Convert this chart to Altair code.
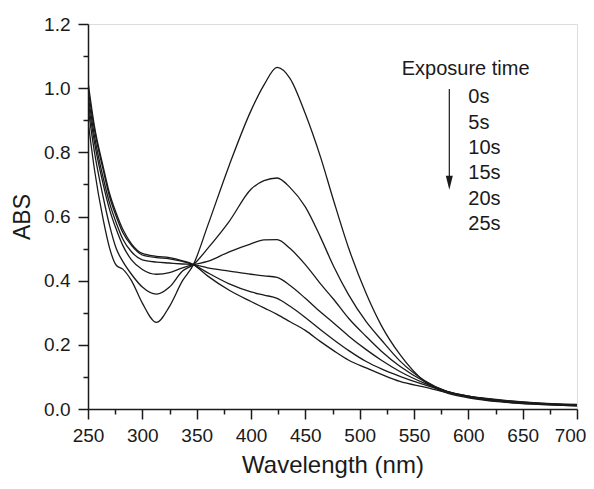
import altair as alt
import pandas as pd

wavelength = [250, 256, 264, 270, 276, 282, 290, 300, 313, 325, 337, 347, 360, 380, 400, 412, 424,
              436, 450, 464, 476, 490, 506, 520, 537, 560, 580, 600, 630, 660, 700]

abs_0s = [0.90, 0.745, 0.59, 0.50, 0.448, 0.436, 0.40, 0.33, 0.27, 0.32, 0.40, 0.45, 0.57, 0.76, 0.93,
          1.01, 1.065, 1.03, 0.92, 0.785, 0.65, 0.50, 0.36, 0.26, 0.17, 0.085, 0.05, 0.035, 0.022, 0.015, 0.010]
abs_5s = [0.94, 0.80, 0.66, 0.57, 0.50, 0.46, 0.42, 0.38, 0.358, 0.38, 0.43, 0.45, 0.50, 0.585, 0.685,
          0.712, 0.72, 0.69, 0.63, 0.535, 0.445, 0.355, 0.272, 0.215, 0.15, 0.088, 0.055, 0.037, 0.024, 0.016, 0.010]
abs_10s = [0.96, 0.83, 0.70, 0.62, 0.56, 0.51, 0.465, 0.435, 0.42, 0.425, 0.44, 0.45, 0.46, 0.49, 0.515,
           0.527, 0.528, 0.50, 0.45, 0.39, 0.342, 0.282, 0.226, 0.18, 0.133, 0.085, 0.055, 0.038, 0.025, 0.017, 0.011]
abs_15s = [0.98, 0.85, 0.72, 0.64, 0.58, 0.53, 0.49, 0.465, 0.458, 0.455, 0.452, 0.45, 0.44, 0.43, 0.42,
           0.415, 0.41, 0.385, 0.345, 0.302, 0.268, 0.227, 0.185, 0.152, 0.117, 0.08, 0.055, 0.04, 0.026, 0.018, 0.012]
abs_20s = [1.00, 0.87, 0.745, 0.66, 0.60, 0.55, 0.51, 0.48, 0.472, 0.468, 0.46, 0.45, 0.425, 0.39, 0.365,
           0.355, 0.345, 0.32, 0.285, 0.247, 0.216, 0.182, 0.148, 0.125, 0.102, 0.075, 0.055, 0.04, 0.027, 0.019, 0.013]
abs_25s = [1.02, 0.88, 0.755, 0.67, 0.61, 0.56, 0.515, 0.485, 0.476, 0.472, 0.462, 0.45, 0.415, 0.37, 0.335,
           0.315, 0.295, 0.272, 0.245, 0.21, 0.182, 0.152, 0.128, 0.108, 0.086, 0.068, 0.052, 0.04, 0.028, 0.02, 0.014]

series_names = ["0s", "5s", "10s", "15s", "20s", "25s"]
series_values = [abs_0s, abs_5s, abs_10s, abs_15s, abs_20s, abs_25s]

legend_title = "Exposure time"
x_major = [250, 300, 350, 400, 450, 500, 550, 600, 650, 700]
x_minor = [275, 325, 375, 425, 475, 525, 575, 625, 675]
y_major = [0.0, 0.2, 0.4, 0.6, 0.8, 1.0, 1.2]
y_minor = [0.1, 0.3, 0.5, 0.7, 0.9, 1.1]

rows = []
for name, vals in zip(series_names, series_values):
    for w, v in zip(wavelength, vals):
        rows.append({"series": name, "wavelength": w, "abs": v})
df = pd.DataFrame(rows)

FONT = "Liberation Sans"
INK = "#1a1a1a"

xscale = alt.Scale(domain=[250, 700], nice=False)
yscale = alt.Scale(domain=[0, 1.2], nice=False)

common = dict(grid=False, domainColor=INK, tickColor=INK, domainWidth=1.5, tickWidth=1.5,
              labelFont=FONT, labelFontSize=19, labelColor=INK, labelFlush=False, labelOverlap=False,
              labelBound=False,
              titleFont=FONT, titleFontWeight="normal", titleColor=INK)

xaxis = alt.Axis(values=x_major, title="Wavelength (nm)", format="d", orient="bottom",
                 tickSize=10, labelPadding=7, titlePadding=8, titleFontSize=24,
                 labelOffset=alt.condition("datum.value == 700", alt.value(-7), alt.value(0)),
                 **common)
yaxis = alt.Axis(values=y_major, title="ABS", format=".1f", orient="left",
                 tickSize=10, labelPadding=8, titlePadding=9, titleFontSize=23, **common)

xaxis_minor = alt.Axis(values=x_minor, title=None, labels=False, domain=False, orient="bottom",
                       tickSize=5, tickWidth=1.5, tickColor=INK, grid=False)
yaxis_minor = alt.Axis(values=y_minor, title=None, labels=False, domain=False, orient="left",
                       tickSize=5, tickWidth=1.5, tickColor=INK, grid=False)

lines = alt.Chart(df).mark_line(color=INK, strokeWidth=1.3, interpolate="monotone", clip=True).encode(
    x=alt.X("wavelength:Q", scale=xscale, axis=xaxis),
    y=alt.Y("abs:Q", scale=yscale, axis=yaxis),
    detail="series:N",
)

minor = alt.Chart(df).mark_point(opacity=0).encode(
    x=alt.X("wavelength:Q", scale=xscale, axis=xaxis_minor),
    y=alt.Y("abs:Q", scale=yscale, axis=yaxis_minor),
)

# legend annotation
leg_df = pd.DataFrame({"label": series_names, "idx": list(range(len(series_names)))})
leg_labels = alt.Chart(leg_df).transform_calculate(
    xx="600", yy="0.972 - datum.idx * 0.0792"
).mark_text(align="left", baseline="middle", font=FONT, fontSize=20, color=INK).encode(
    x=alt.X("xx:Q", scale=xscale, axis=None), y=alt.Y("yy:Q", scale=yscale, axis=None), text="label:N"
)

title_df = pd.DataFrame({"label": [legend_title]})
leg_title = alt.Chart(title_df).transform_calculate(
    xx="597.5", yy="1.06"
).mark_text(align="center", baseline="middle", font=FONT, fontSize=20, color=INK).encode(
    x=alt.X("xx:Q", scale=xscale, axis=None), y=alt.Y("yy:Q", scale=yscale, axis=None), text="label:N"
)

arrow_df = pd.DataFrame({"x": [582.5], "y1": [0.9975], "y2": [0.72], "yh": [0.705]})
arrow_line = alt.Chart(arrow_df).mark_rule(color=INK, strokeWidth=1.2).encode(
    x=alt.X("x:Q", scale=xscale, axis=None), y=alt.Y("y1:Q", scale=yscale, axis=None), y2="y2:Q"
)
arrow_head = alt.Chart(arrow_df).mark_point(
    shape="M -0.5 -1 L 0.5 -1 L 0 1 Z", filled=True, color=INK, size=196, opacity=1
).encode(x=alt.X("x:Q", scale=xscale, axis=None), y=alt.Y("yh:Q", scale=yscale, axis=None))

chart = alt.layer(lines, minor, leg_title, leg_labels, arrow_line, arrow_head).resolve_axis(
    x="independent", y="independent"
).properties(
    width=489, height=385,
    autosize=alt.AutoSizeParams(type="none"),
    padding={"left": 80, "top": 16, "right": 9, "bottom": 72},
).configure_view(stroke=INK, strokeWidth=1.5).configure(background="white")

chart.save("out.html", embed_options={"renderer": "svg", "actions": False})
